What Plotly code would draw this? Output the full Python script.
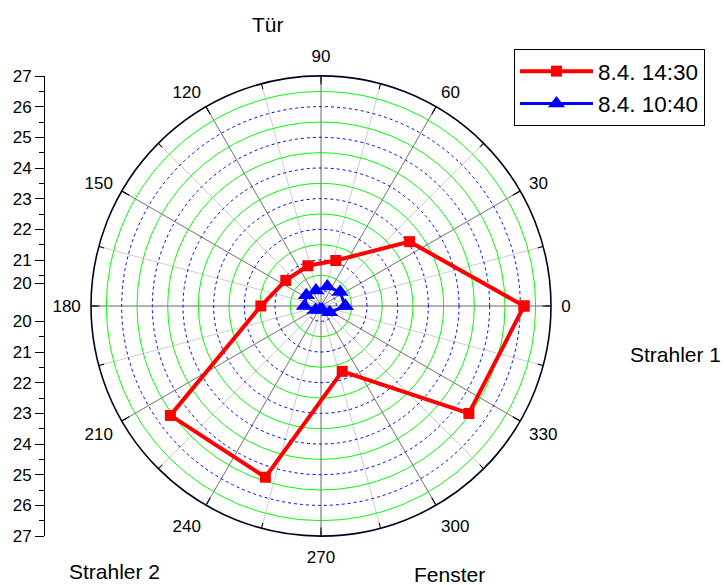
import plotly.graph_objects as go

# ---- data ----
angles = [0, 36, 72, 108, 144, 180, 216, 252, 288, 324]
red_1430 = [26.12, 23.07, 21.06, 20.88, 20.92, 21.46, 25.57, 25.37, 21.74, 25.46]
blue_1040 = [20.29, 20.27, 20.17, 20.03, 20.09, 20.04, 19.72, 19.62, 19.62, 19.85]
series_names = ["8.4. 14:30", "8.4. 10:40"]
angle_ticks = [0, 30, 60, 90, 120, 150, 180, 210, 240, 270, 300, 330]
all_angle_ticks = list(range(0, 360, 15))
r_min, r_max = 19.5, 27
major_r_grid = [20.5, 21.5, 22.5, 23.5, 24.5, 25.5, 26.5]
minor_r_grid = [20, 21, 22, 23, 24, 25, 26, 27]
scale_labels = [27, 26, 25, 24, 23, 22, 21, 20]
corner_labels = ["Tür", "Strahler 1", "Strahler 2", "Fenster"]

W, H = 725, 585
FONT = "Arial, Liberation Sans, sans-serif"
cx, cy, R = 321, 306, 230

def px(x):
    return x / W

def py(y):
    return 1 - y / H

dom_x = [px(cx - R), px(cx + R)]
dom_y = [py(cy + R), py(cy - R)]

fig = go.Figure()

def closed(v):
    return list(v) + [v[0]]

# transparent copies so the grid-only polar layers exist
for sp in ["polar", "polar2"]:
    fig.add_trace(go.Scatterpolar(r=red_1430, theta=angles, mode="markers", subplot=sp,
                                  marker=dict(opacity=0), showlegend=False, hoverinfo="skip"))

fig.add_trace(go.Scatterpolar(
    r=closed(red_1430), theta=closed(angles), mode="lines+markers",
    name=series_names[0], subplot="polar3",
    line=dict(color="#FF0000", width=4),
    marker=dict(symbol="square", size=11, color="#FF0000")))
fig.add_trace(go.Scatterpolar(
    r=closed(blue_1040), theta=closed(angles), mode="lines+markers",
    name=series_names[1], subplot="polar3",
    line=dict(color="#0000FF", width=3),
    marker=dict(symbol="triangle-up", size=15, color="#0000FF")))

fig.add_trace(go.Scatter(x=[], y=[], xaxis="x", yaxis="y", showlegend=False))

radial_base = dict(range=[r_min, r_max], showline=False, showticklabels=False,
                   ticks="", tickmode="array")
ang_base = dict(rotation=0, direction="counterclockwise", tickmode="array")

fig.update_layout(
    template="none",
    width=W, height=H, margin=dict(l=0, r=0, t=0, b=0, autoexpand=False),
    paper_bgcolor="white", plot_bgcolor="white",
    font=dict(family=FONT, color="black"),
    polar=dict(
        domain=dict(x=dom_x, y=dom_y), bgcolor="white",
        radialaxis=dict(**radial_base, tickvals=major_r_grid, showgrid=True,
                        gridcolor="#00FF00", gridwidth=1),
        angularaxis=dict(**ang_base, tickvals=all_angle_ticks, showticklabels=False,
                         ticks="inside", ticklen=5, tickcolor="black", tickwidth=1,
                         showgrid=True, gridcolor="#CCCCCC", gridwidth=1,
                         showline=False)),
    polar2=dict(
        domain=dict(x=dom_x, y=dom_y), bgcolor="rgba(0,0,0,0)",
        radialaxis=dict(**radial_base, tickvals=minor_r_grid, showgrid=True,
                        gridcolor="#0000FF", gridwidth=1, griddash="dot"),
        angularaxis=dict(**ang_base, tickvals=angle_ticks, showticklabels=False,
                         ticks="inside", ticklen=8, tickcolor="black", tickwidth=1,
                         showgrid=True, gridcolor="#808080", gridwidth=1,
                         showline=False)),
    polar3=dict(
        domain=dict(x=dom_x, y=dom_y), bgcolor="rgba(0,0,0,0)",
        radialaxis=dict(**radial_base, showgrid=False),
        angularaxis=dict(**ang_base, tickvals=angle_ticks,
                         ticktext=[str(a) for a in angle_ticks],
                         ticks="outside", ticklen=6, tickcolor="rgba(0,0,0,0)",
                         tickfont=dict(size=17, family=FONT, color="black"),
                         showgrid=False, showline=True, linecolor="#000020", linewidth=1.6)),
    xaxis=dict(domain=[px(45), px(46)], visible=False, range=[0, 1], fixedrange=True),
    yaxis=dict(domain=dom_y, anchor="x", side="left", automargin=False,
               range=[-(r_max - r_min), r_max - r_min],
               showgrid=False, zeroline=False, showline=True, linecolor="black", linewidth=1,
               ticks="outside", ticklen=9, tickcolor="black", tickwidth=1, tickmode="array",
               tickfont=dict(size=17, family=FONT, color="black"),
               minor=dict(tickmode="array",
                          tickvals=[v - r_min for v in major_r_grid] + [-(v - r_min) for v in major_r_grid],
                          ticks="outside", ticklen=5, tickcolor="black", tickwidth=1,
                          showgrid=False)),
    legend=dict(x=px(514), y=py(49), xanchor="left", yanchor="top",
                bordercolor="black", borderwidth=1, bgcolor="white",
                font=dict(size=22.5, family=FONT, color="black"),
                itemwidth=73, tracegroupgap=0),
    showlegend=True,
)

upper_vals = [v - r_min for v in scale_labels]
upper_vals[-1] = 0.75  # upper "20" label sits slightly higher in the original
lower_vals = [-(v - r_min) for v in scale_labels]
fig.update_yaxes(tickvals=upper_vals + lower_vals,
                 ticktext=[str(v) for v in scale_labels] * 2)

label_pos = [(268, 25), (675, 354), (114, 571), (449, 574)]
for txt, (x, y) in zip(corner_labels, label_pos):
    fig.add_annotation(x=px(x), y=py(y), xref="paper", yref="paper", text=txt,
                       showarrow=False, xanchor="center", yanchor="middle",
                       font=dict(size=21, family=FONT, color="black"))

fig.write_html("out.html")
